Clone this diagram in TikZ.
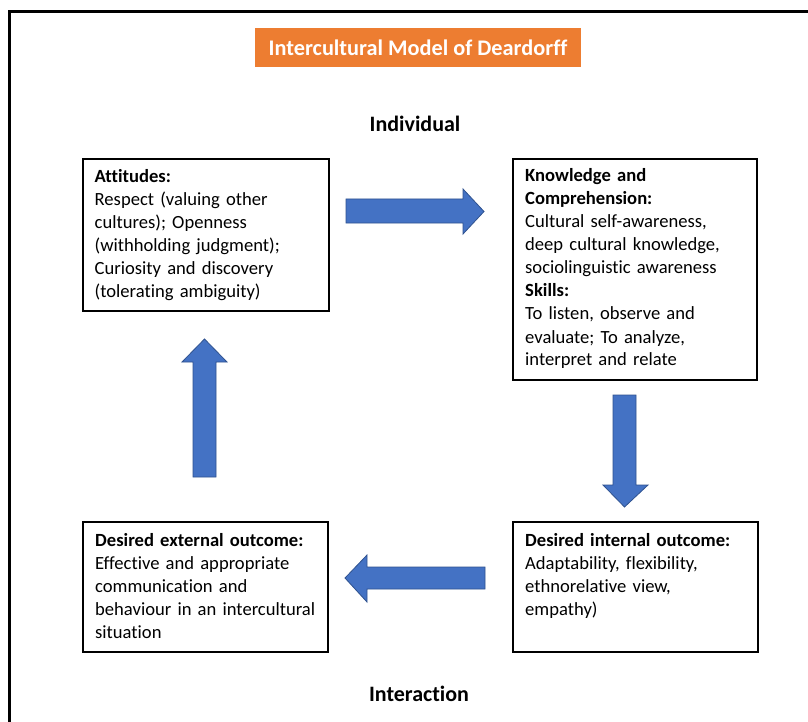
\documentclass[tikz,border=0pt]{standalone}
\usepackage{fontspec}
\setmainfont[Ligatures=NoCommon]{Carlito}
\definecolor{arrowblue}{HTML}{4472C4}
\definecolor{arrowedge}{HTML}{2F528F}
\definecolor{titleorange}{HTML}{ED7D31}
\begin{document}
\begin{tikzpicture}[x=1pt,y=-1pt,
  box/.style={draw=black, line width=2pt, anchor=north west, inner sep=0pt},
  txt/.style={anchor=base west, inner sep=0pt, align=left, font=\fontsize{18.6}{23}\selectfont},
  blockarrow/.style={fill=arrowblue, draw=arrowedge, line width=0.8pt, line join=miter},
  heading/.style={font=\fontsize{22}{26}\selectfont\bfseries}]
\clip (0,0) rectangle (808,722);
\fill[white] (0,0) rectangle (808,722);
\draw[line width=3pt] (9.5,11.5) rectangle (840,760);

% title
\node[fill=titleorange, minimum width=326pt, minimum height=39pt, inner sep=0pt,
      text=white, font=\fontsize{22.3}{26}\selectfont\bfseries] (title) at (418,47.5)
      {Intercultural Model of Deardorff};

\node[heading] (indiv) at (415,124) {Individual};
\node[heading] (inter) at (419,694) {Interaction};

% boxes
\node[box, minimum width=246pt, minimum height=152pt] (att) at (82,158) {};
\node[txt, text width=235pt] (atttxt) at (94.5,183)
 {\textbf{Attitudes:}\\Respect (valuing other\\cultures); Openness\\(withholding judgment);\\Curiosity and discovery\\(tolerating ambiguity)};

\node[box, minimum width=244pt, minimum height=221pt] (know) at (512,158) {};
\node[txt, text width=235pt] (knowtxt) at (525,182)
 {\textbf{Knowledge and}\\\textbf{Comprehension:}\\Cultural self-awareness,\\deep cultural knowledge,\\sociolinguistic awareness\\\textbf{Skills:}\\To listen, observe and\\evaluate; To analyze,\\interpret and relate};

\node[box, minimum width=245pt, minimum height=130pt] (ext) at (82,521) {};
\node[txt, text width=235pt] (exttxt) at (95,546)
 {\textbf{Desired external outcome:}\\Effective and appropriate\\communication and\\behaviour in an intercultural\\situation};

\node[box, minimum width=245pt, minimum height=130pt] (int) at (512,521) {};
\node[txt, text width=235pt] (inttxt) at (525,546)
 {\textbf{Desired internal outcome:}\\Adaptability, flexibility,\\ethnorelative view,\\empathy)};

% block arrows
\draw[blockarrow] (346,199) -- (463,199) -- (463,189) -- (484,211.5) -- (463,234) -- (463,223) -- (346,223) -- cycle;
\draw[blockarrow] (613,395) -- (636,395) -- (636,485) -- (648,485) -- (624.5,507) -- (603,485) -- (613,485) -- cycle;
\draw[blockarrow] (485,567) -- (485,589) -- (367,589) -- (367,602) -- (345,578) -- (367,555) -- (367,567) -- cycle;
\draw[blockarrow] (193,477) -- (193,362) -- (182,362) -- (204.5,339) -- (227,362) -- (216,362) -- (216,477) -- cycle;
\end{tikzpicture}
\end{document}
